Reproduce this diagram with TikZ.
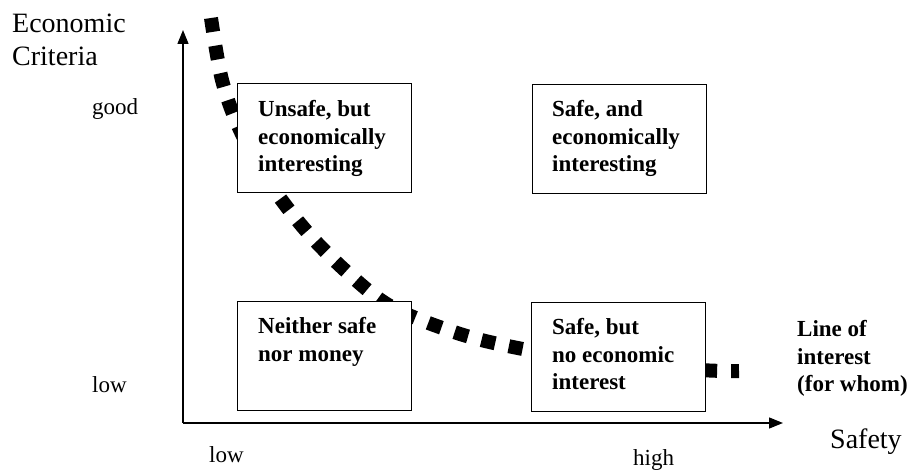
\documentclass[tikz,border=0pt]{standalone}
\usepackage{fontspec}
\setmainfont{Liberation Serif}
\usetikzlibrary{arrows.meta}

% left-aligned lines whose baseline is the first line's
\newcommand{\stackl}[1]{\begin{tabular}[t]{@{}l@{}}#1\end{tabular}}

\begin{document}
\begin{tikzpicture}[x=1pt,y=-1pt,
  axis/.style={line width=1.4pt,-{Triangle[length=14pt,width=11pt]}},
  quad/.style={draw,fill=white,line width=1.4pt,inner sep=0pt,
    minimum width=174pt,minimum height=109pt,anchor=north west},
  quadtext/.style={anchor=base west,inner sep=0pt,
    font=\fontsize{23}{27.5}\selectfont\bfseries},
  ticklabel/.style={anchor=base west,inner sep=0pt,font=\fontsize{23}{27.5}\selectfont},
  axistitle/.style={anchor=base west,inner sep=0pt,
    font=\fontsize{28}{33}\selectfont},
  interest/.style={line width=14pt,dash pattern=on 14pt off 14pt}]

  % page frame
  \useasboundingbox (0,0) rectangle (911,470);

  % axes
  \coordinate (O) at (183,423);
  \coordinate (ytip) at (183,30);
  \coordinate (xtip) at (783,423);
  \draw[axis] (O) -- (ytip);
  \draw[axis] (O) -- (xtip);

  % line of interest
  \draw[interest] plot[smooth,tension=0.55] coordinates {
    (211,18) (222,80) (240,130) (271,185) (308,233) (348,273)
    (390,306) (448,330) (503,345) (600,362) (700,370) (739,371)};

  % quadrant boxes
  \node[quad] (ul) at (237,83) {};
  \node[quad] (ur) at (532,84) {};
  \node[quad] (ll) at (237,301) {};
  \node[quad] (lr) at (531,302) {};

  \node[quadtext] (ult) at ([xshift=21pt,yshift=-34pt]ul.north west)
    {\stackl{Unsafe, but\\economically\\interesting}};
  \node[quadtext] (urt) at ([xshift=20pt,yshift=-33pt]ur.north west)
    {\stackl{Safe, and\\economically\\interesting}};
  \node[quadtext] (llt) at ([xshift=21pt,yshift=-33pt]ll.north west)
    {\stackl{Neither safe\\nor money}};
  \node[quadtext] (lrt) at ([xshift=21pt,yshift=-33pt]lr.north west)
    {\stackl{Safe, but\\no economic\\interest}};

  % axis titles and scale labels
  \node[axistitle] (ytitle) at (12,33) {\stackl{Economic\\Criteria}};
  \node[axistitle] (xtitle) at (830,449) {Safety};
  \node[ticklabel] (good) at (92,115) {good};
  \node[ticklabel] (ylow) at (92,393) {low};
  \node[ticklabel] (xlow) at (209,462) {low};
  \node[ticklabel] (high) at (633,465) {high};

  \node[quadtext] (line) at (797,337)
    {\stackl{Line of\\interest\\(for whom)}};
\end{tikzpicture}
\end{document}
